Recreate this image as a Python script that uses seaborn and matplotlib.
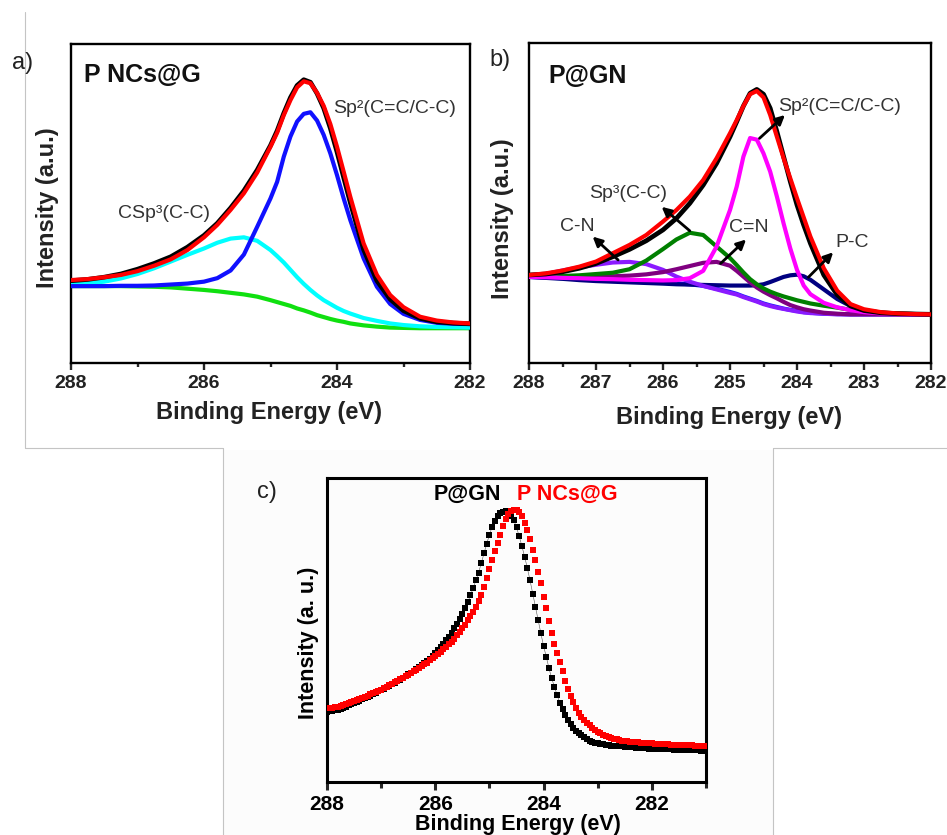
import numpy as np
import matplotlib
matplotlib.use("Agg")
import matplotlib.pyplot as plt
from matplotlib.lines import Line2D
from matplotlib.patches import Rectangle
import seaborn as sns

sns.set_theme(style="white")
plt.rcParams["font.family"] = ["Liberation Sans", "DejaVu Sans"]

# ---------------------------------------------------------------
# C 1s fits: binding energy grid (eV) shared by panels a) and b)
# ---------------------------------------------------------------
energy_fit = [288.0, 287.75, 287.5, 287.25, 287.0, 286.75, 286.5, 286.25, 286.0,
              285.8, 285.6, 285.4, 285.2, 285.0, 284.9, 284.8, 284.7, 284.6,
              284.5, 284.4, 284.3, 284.2, 284.1, 284.0, 283.9, 283.8, 283.6,
              283.4, 283.2, 283.0, 282.75, 282.5, 282.25, 282.0]

# a) P NCs@G
a_raw = [25.8, 26.2, 26.9, 27.9, 29.4, 31.2, 33.3, 36.3, 40.0, 43.8, 48.6, 54.0,
         60.5, 68.2, 72.8, 78.3, 83.2, 87.0, 88.8, 88.0, 84.5, 79.9, 73.6, 66.2,
         58.2, 50.3, 35.6, 25.8, 20.0, 16.4, 14.0, 12.9, 12.5, 12.3]
a_envelope = [26.0, 26.3, 26.9, 27.6, 28.8, 30.5, 32.5, 35.4, 39.4, 43.3, 48.0, 53.2,
              59.7, 67.8, 72.2, 77.7, 82.4, 86.4, 88.3, 87.7, 84.7, 80.6, 74.9, 67.8,
              60.0, 52.1, 37.5, 27.6, 21.3, 17.5, 14.5, 13.3, 12.7, 12.4]
a_sp2 = [24.1, 24.1, 24.1, 24.2, 24.2, 24.3, 24.6, 24.9, 25.5, 26.6, 29.0, 34.0,
         42.7, 51.6, 56.8, 64.7, 71.0, 75.7, 78.1, 78.6, 76.0, 71.5, 65.7, 58.9,
         51.6, 44.8, 32.8, 23.9, 18.5, 15.4, 13.5, 12.6, 12.3, 12.2]
a_sp3 = [24.8, 25.0, 25.5, 26.5, 27.9, 29.7, 31.8, 33.9, 35.9, 37.7, 39.0, 39.4,
         38.3, 35.4, 33.5, 31.5, 29.2, 26.9, 24.8, 22.9, 21.2, 19.7, 18.5, 17.3,
         16.3, 15.5, 14.1, 13.2, 12.4, 11.9, 11.5, 11.3, 11.2, 11.1]
a_background = [24.1, 24.1, 24.1, 24.1, 24.0, 23.9, 23.7, 23.3, 22.9, 22.5, 22.0, 21.5,
                20.8, 19.7, 19.1, 18.5, 17.9, 17.1, 16.5, 15.8, 15.0, 14.4, 13.8, 13.3,
                12.9, 12.4, 11.8, 11.4, 11.1, 11.0, 10.9, 10.9, 10.9, 10.9]

# b) P@GN
b_raw = [27.5, 27.8, 28.5, 29.6, 31.1, 33.2, 35.5, 38.2, 41.6, 45.2, 49.9, 55.6,
         62.4, 70.7, 75.4, 80.3, 84.3, 85.5, 84.0, 79.6, 72.3, 64.5, 56.7, 49.4,
         43.1, 37.4, 27.5, 21.3, 17.8, 16.4, 15.7, 15.4, 15.3, 15.2]
b_envelope = [27.5, 28.0, 28.9, 30.1, 31.7, 34.3, 36.9, 40.0, 44.2, 47.8, 52.0, 57.2,
              64.0, 71.8, 75.9, 80.3, 84.0, 85.0, 83.0, 77.5, 70.7, 64.0, 57.7, 51.5,
              45.5, 39.5, 29.6, 22.6, 18.4, 16.8, 15.9, 15.5, 15.3, 15.2]
b_sp2 = [26.9, 26.8, 26.6, 26.5, 26.3, 26.2, 26.0, 25.9, 25.8, 25.9, 26.5, 28.8,
         36.4, 47.8, 55.1, 64.5, 70.3, 69.8, 65.5, 59.8, 52.0, 43.6, 35.8, 29.1,
         24.2, 21.5, 18.8, 17.4, 16.5, 15.9, 15.5, 15.3, 15.2, 15.2]
b_sp3 = [26.9, 27.0, 27.2, 27.4, 27.8, 28.2, 29.3, 32.0, 35.6, 38.6, 40.7, 40.0,
         36.4, 32.8, 30.6, 28.3, 26.2, 24.6, 23.3, 22.3, 21.5, 20.8, 20.2, 19.6,
         19.1, 18.6, 17.9, 17.3, 16.6, 16.1, 15.7, 15.5, 15.3, 15.3]
b_c_n = [26.9, 27.8, 28.9, 29.9, 30.7, 31.4, 31.6, 30.9, 29.1, 27.0, 25.4, 24.1,
         23.0, 21.9, 21.4, 20.6, 19.9, 19.2, 18.4, 17.8, 17.3, 16.9, 16.5, 16.1,
         15.8, 15.6, 15.4, 15.2, 15.2, 15.2, 15.2, 15.2, 15.2, 15.2]
b_c_eq_n = [26.9, 26.9, 26.9, 26.9, 27.0, 27.1, 27.3, 27.7, 28.4, 29.3, 30.3, 31.3,
            31.6, 30.4, 28.8, 27.0, 25.2, 23.6, 22.3, 21.2, 20.2, 19.1, 18.1, 17.4,
            16.8, 16.4, 15.7, 15.4, 15.2, 15.2, 15.2, 15.2, 15.2, 15.2]
b_p_c = [26.9, 26.6, 26.3, 25.9, 25.6, 25.4, 25.2, 25.0, 24.8, 24.6, 24.5, 24.4,
         24.3, 24.2, 24.2, 24.2, 24.2, 24.3, 24.6, 25.3, 26.1, 26.9, 27.4, 27.6,
         27.1, 26.0, 23.0, 20.0, 17.8, 16.5, 15.7, 15.4, 15.3, 15.2]
b_background = [26.9, 26.7, 26.5, 26.3, 26.0, 25.8, 25.6, 25.4, 25.2, 24.9, 24.6, 24.1,
                23.2, 22.2, 21.6, 20.8, 20.1, 19.4, 18.6, 18.0, 17.5, 17.0, 16.6, 16.3,
                15.9, 15.7, 15.4, 15.3, 15.2, 15.2, 15.2, 15.2, 15.2, 15.2]

# ---------------------------------------------------------------
# c) raw C 1s spectra, 288.00 -> 281.00 eV in 0.05 eV steps
# ---------------------------------------------------------------
energy_c = np.linspace(288.0, 281.0, 141)
c_pgn = [23.1, 23.2, 23.4, 23.6, 23.8, 24.1, 24.4, 24.8, 25.2, 25.6,
         26.0, 26.4, 26.8, 27.2, 27.6, 28.0, 28.4, 28.8, 29.3, 29.8,
         30.2, 30.7, 31.2, 31.7, 32.2, 32.7, 33.2, 33.7, 34.3, 34.8,
         35.4, 35.9, 36.5, 37.1, 37.7, 38.4, 39.1, 39.8, 40.6, 41.4,
         42.3, 43.3, 44.4, 45.5, 46.6, 47.8, 49.1, 50.5, 52.0, 53.6,
         55.3, 57.2, 59.2, 61.4, 63.8, 66.3, 68.9, 72.0, 75.2, 78.4,
         81.3, 84.0, 86.0, 87.5, 88.4, 88.9, 89.0, 88.5, 87.5, 86.1,
         83.8, 80.8, 77.6, 74.1, 70.4, 66.3, 62.0, 57.6, 53.2, 48.9,
         44.7, 41.2, 37.4, 34.1, 31.3, 28.6, 26.0, 24.0, 22.2, 20.5,
         19.0, 17.8, 16.9, 16.1, 15.4, 14.7, 14.0, 13.6, 13.2, 12.9,
         12.7, 12.5, 12.4, 12.2, 12.1, 12.0, 11.9, 11.8, 11.8, 11.7,
         11.6, 11.5, 11.5, 11.4, 11.3, 11.3, 11.2, 11.1, 11.1, 11.0,
         11.0, 10.9, 10.9, 10.8, 10.8, 10.7, 10.7, 10.7, 10.6, 10.6,
         10.6, 10.5, 10.5, 10.5, 10.4, 10.4, 10.4, 10.4, 10.3, 10.3,
         10.3]
c_pncs = [24.2, 24.3, 24.4, 24.6, 24.8, 25.0, 25.3, 25.6, 25.9, 26.2,
          26.5, 26.9, 27.2, 27.6, 28.0, 28.4, 28.8, 29.2, 29.6, 30.0,
          30.4, 30.9, 31.3, 31.8, 32.3, 32.8, 33.3, 33.8, 34.3, 34.8,
          35.3, 35.8, 36.4, 36.9, 37.5, 38.1, 38.7, 39.3, 40.0, 40.7,
          41.4, 42.1, 42.9, 43.6, 44.5, 45.3, 46.2, 47.2, 48.2, 49.3,
          50.5, 51.8, 53.2, 54.6, 56.0, 57.6, 59.4, 61.6, 64.2, 67.1,
          70.2, 73.1, 75.9, 78.6, 81.4, 84.2, 86.6, 88.3, 89.2, 89.5,
          89.4, 88.8, 87.4, 85.3, 82.9, 79.8, 76.3, 73.0, 69.2, 65.4,
          61.0, 57.1, 53.1, 49.1, 45.4, 42.5, 39.4, 36.4, 33.3, 30.7,
          28.4, 26.2, 24.4, 22.8, 21.5, 20.4, 19.5, 18.6, 17.9, 17.1,
          16.5, 16.0, 15.5, 15.1, 14.8, 14.5, 14.2, 14.0, 13.8, 13.6,
          13.5, 13.4, 13.3, 13.2, 13.1, 13.0, 12.9, 12.9, 12.8, 12.8,
          12.7, 12.6, 12.6, 12.5, 12.5, 12.4, 12.4, 12.3, 12.3, 12.3,
          12.2, 12.2, 12.2, 12.1, 12.1, 12.1, 12.0, 12.0, 12.0, 11.9,
          11.9]

W, H = 947, 835
fig = plt.figure(figsize=(W / 100, H / 100), dpi=100)
fig.patch.set_facecolor("white")


def fx(x):
    return x / W


def fy(y):
    return 1 - y / H


def box(x0, y0, x1, y1):
    return [fx(x0), fy(y1), fx(x1) - fx(x0), fy(y0) - fy(y1)]


# light frames around the two figure blocks
frame = dict(color="#c4c4c4", lw=0.8, transform=fig.transFigure)
fig.add_artist(Rectangle((fx(223), fy(835)), fx(773) - fx(223), fy(450) - fy(835),
                         transform=fig.transFigure, facecolor="#fcfcfc",
                         edgecolor="none", zorder=0))
for (x0, y0, x1, y1) in [(25, 12, 25, 448), (25, 448, 223, 448), (773, 448, 947, 448),
                         (223, 448, 223, 835), (773, 448, 773, 835)]:
    fig.add_artist(Line2D([fx(x0), fx(x1)], [fy(y0), fy(y1)], **frame))

TXT = "#333333"


def style_axes(ax, xlim, major, minor, spine_w, tick_size, tick_color):
    ax.set_xlim(*xlim)
    ax.set_ylim(0, 100)
    ax.set_xticks(major)
    ax.set_xticks(minor, minor=True)
    ax.set_xticklabels([str(int(v)) for v in major])
    ax.set_yticks([])
    for s in ax.spines.values():
        s.set_visible(True)
        s.set_color("black")
        s.set_linewidth(spine_w)
    ax.tick_params(axis="x", which="major", direction="out", length=5, width=spine_w,
                   bottom=True, pad=4, labelsize=tick_size, labelcolor=tick_color)
    ax.tick_params(axis="x", which="minor", direction="out", length=3, width=spine_w,
                   bottom=True)
    for lab in ax.get_xticklabels():
        lab.set_fontweight("bold")
    ax.set_facecolor("none")


def line(ax, y, color, lw=3.0, z=2):
    sns.lineplot(x=energy_fit, y=y, ax=ax, color=color, linewidth=lw, sort=False,
                 estimator=None, legend=False, zorder=z)


# ---------------------------- a) ----------------------------
ax_a = fig.add_axes(box(71, 44, 470, 363))
line(ax_a, a_background, "#10e010", z=2)
line(ax_a, a_sp3, "#00ffff", z=3)
line(ax_a, a_sp2, "#1010ff", z=4)
line(ax_a, a_raw, "black", lw=3.4, z=5)
line(ax_a, a_envelope, "#ff0000", lw=3.0, z=6)
style_axes(ax_a, (288, 282), [288, 286, 284, 282], [287, 285, 283], 1.7, 14, "#222222")
ax_a.set_xlabel("Binding Energy (eV)", fontsize=17, fontweight="bold", color="#222222")
ax_a.xaxis.set_label_coords(0.496, -0.154)
ax_a.xaxis.label.set_va("center")
ax_a.set_ylabel("Intensity (a.u.)", fontsize=17, fontweight="bold", color="#222222")
ax_a.yaxis.set_label_coords(-0.058, 0.486)
ax_a.yaxis.label.set_va("center")
ax_a.text(0.033, 0.903, "P NCs@G", transform=ax_a.transAxes, fontsize=18,
          fontweight="bold", color="#111111", ha="left", va="center")
ax_a.text(284.06, 79.9, "Sp²(C=C/C-C)", fontsize=14, color=TXT, ha="left", va="center")
ax_a.text(287.29, 47.0, "CSp³(C-C)", fontsize=14, color=TXT, ha="left", va="center")

# ---------------------------- b) ----------------------------
ax_b = fig.add_axes(box(529, 43, 931, 363))
line(ax_b, b_background, "#1a1aff", z=2)
line(ax_b, b_p_c, "#000080", z=3)
line(ax_b, b_c_n, "#8a1aff", z=4)
line(ax_b, b_c_eq_n, "#800080", z=5)
line(ax_b, b_sp3, "#008000", z=6)
line(ax_b, b_sp2, "#ff00ff", z=7)
line(ax_b, b_raw, "black", lw=3.4, z=8)
line(ax_b, b_envelope, "#ff0000", lw=3.0, z=9)
style_axes(ax_b, (288, 282), [288, 287, 286, 285, 284, 283, 282],
           [287.5, 286.5, 285.5, 284.5, 283.5, 282.5], 1.7, 14, "#222222")
ax_b.set_xlabel("Binding Energy (eV)", fontsize=17, fontweight="bold", color="#222222")
ax_b.xaxis.set_label_coords(0.4975, -0.169)
ax_b.xaxis.label.set_va("center")
ax_b.set_ylabel("Intensity (a.u.)", fontsize=17, fontweight="bold", color="#222222")
ax_b.yaxis.set_label_coords(-0.065, 0.45)
ax_b.yaxis.label.set_va("center")
ax_b.text(0.047, 0.897, "P@GN", transform=ax_b.transAxes, fontsize=18,
          fontweight="bold", color="#111111", ha="left", va="center")

arrow = dict(arrowstyle="-|>", color="black", lw=2.0, mutation_scale=14,
             shrinkA=0, shrinkB=0)
b_labels = [
    ("Sp²(C=C/C-C)", (284.28, 80.3), (284.56, 70.2), (284.18, 77.5)),
    ("Sp³(C-C)", (287.10, 53.1), (285.60, 41.3), (286.02, 48.8)),
    ("C-N", (287.54, 42.8), (286.67, 32.2), (287.05, 39.5)),
    ("C=N", (285.01, 42.2), (285.14, 31.1), (284.76, 38.6)),
    ("P-C", (283.43, 37.8), (283.83, 26.8), (283.46, 34.6)),
]
for text, pos, tail, head in b_labels:
    ax_b.text(pos[0], pos[1], text, fontsize=14, color=TXT, ha="left", va="center",
              zorder=12)
    ax_b.annotate("", xy=head, xytext=tail, arrowprops=arrow, zorder=12)

# ---------------------------- c) ----------------------------
ax_c = fig.add_axes(box(327, 478, 706, 782))
sns.lineplot(x=energy_c, y=c_pgn, ax=ax_c, color="#555555", linewidth=0.4,
             sort=False, estimator=None, legend=False, zorder=2)
sns.scatterplot(x=energy_c, y=c_pgn, ax=ax_c, marker="s", s=16, color="black",
                linewidth=0, legend=False, zorder=3)
sns.scatterplot(x=energy_c, y=c_pncs, ax=ax_c, marker="s", s=16, color="#ff0000",
                linewidth=0, legend=False, zorder=4)
style_axes(ax_c, (288, 281), [288, 286, 284, 282], [287, 285, 283, 281], 2.2, 15, "black")
ax_c.tick_params(axis="x", which="major", length=6, pad=3)
ax_c.tick_params(axis="x", which="minor", length=4)
ax_c.set_xlabel("Binding Energy (eV)", fontsize=15.5, fontweight="bold", color="black")
ax_c.xaxis.set_label_coords(0.503, -0.141)
ax_c.xaxis.label.set_va("center")
ax_c.set_ylabel("Intensity (a. u.)", fontsize=15.5, fontweight="bold", color="black")
ax_c.yaxis.set_label_coords(-0.05, 0.457)
ax_c.yaxis.label.set_va("center")
ax_c.text(0.282, 0.947, "P@GN", transform=ax_c.transAxes, fontsize=15.5,
          fontweight="bold", color="black", ha="left", va="center")
ax_c.text(0.501, 0.947, "P NCs@G", transform=ax_c.transAxes, fontsize=15.5,
          fontweight="bold", color="#ff0000", ha="left", va="center")

# panel letters
fig.text(fx(23), fy(63), "a)", fontsize=17, color="#222222", ha="center", va="center")
fig.text(fx(500), fy(60), "b)", fontsize=17, color="#222222", ha="center", va="center")
fig.text(fx(267), fy(492), "c)", fontsize=17, color="#222222", ha="center", va="center")

fig.savefig("out.png", dpi=100, facecolor="white")
